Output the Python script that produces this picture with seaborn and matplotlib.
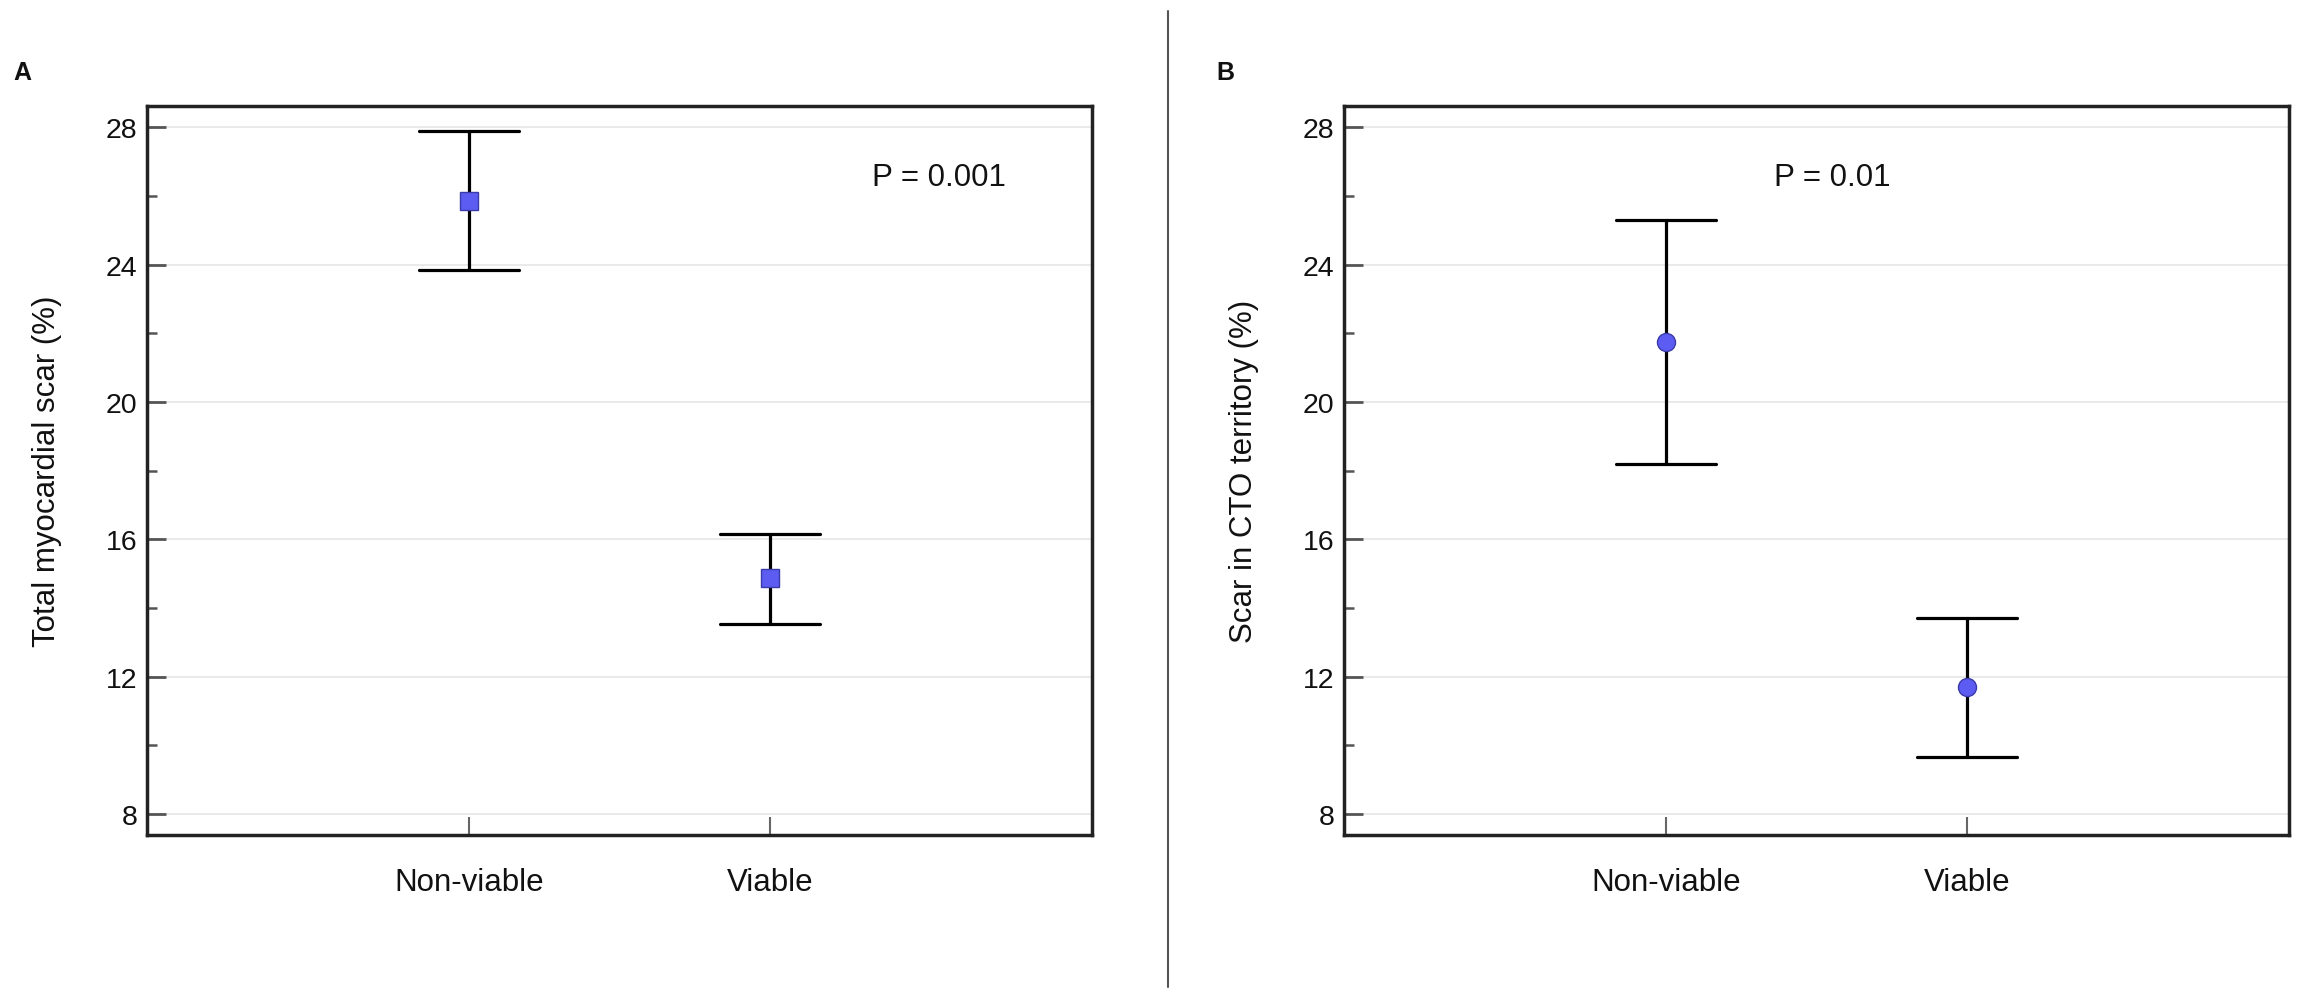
import numpy as np
import pandas as pd
import matplotlib
matplotlib.use("Agg")
import matplotlib.pyplot as plt
from matplotlib.lines import Line2D
from matplotlib.ticker import MultipleLocator
import seaborn as sns

# ---- data ----
groups = ["Non-viable", "Viable"]
# Panel A: total myocardial scar (%)
a_lower = [23.85, 13.54]
a_mean = [25.86, 14.86]
a_upper = [27.88, 16.17]
# Panel B: scar in CTO territory (%)
b_lower = [18.19, 9.65]
b_mean = [21.75, 11.69]
b_upper = [25.29, 13.72]

panel_letters = ["A", "B"]
ylabels = ["Total myocardial scar (%)", "Scar in CTO territory (%)"]
p_texts = ["P = 0.001", "P = 0.01"]
p_x = [1.34, 0.36]
p_y = [26.56, 26.56]
yticks = [8, 12, 16, 20, 24, 28]
markers = ["s", "o"]


def long_frame(lower, mean, upper):
    rows = []
    for g, lo, m, hi in zip(groups, lower, mean, upper):
        for v in (lo, m, hi):
            rows.append({"group": g, "value": v})
    return pd.DataFrame(rows)


sns.set_style("white")
plt.rcParams["font.family"] = ["Liberation Sans", "DejaVu Sans"]

W, H = 2306, 1004
fig = plt.figure(figsize=(W / 100, H / 100), dpi=100)

ax_left_px = [147, 1344]
ax_w_px = 945
ax_top_px, ax_bot_px = 107, 836

frames = [long_frame(a_lower, a_mean, a_upper), long_frame(b_lower, b_mean, b_upper)]

for i in range(2):
    ax = fig.add_axes([ax_left_px[i] / W, (H - ax_bot_px) / H,
                       ax_w_px / W, (ax_bot_px - ax_top_px) / H])
    sns.pointplot(
        data=frames[i], x="group", y="value", order=groups,
        estimator="median", errorbar=("pi", 100),
        color="black", markers=markers[i], linestyles="none",
        capsize=0.333,
        err_kws={"linewidth": 2.3, "zorder": 2, "color": "black"},
        markersize=13, markerfacecolor="#5c5cf2", markeredgecolor="#3a3aa8",
        markeredgewidth=1.0, zorder=3,
        ax=ax,
    )
    ax.set_xlim(-1.07, 2.07)
    ax.set_ylim(7.39, 28.62)
    ax.set_yticks(yticks)
    ax.yaxis.set_minor_locator(MultipleLocator(2))
    ax.grid(False)
    ax.yaxis.grid(True, which="major", color="#e4e4e4", linewidth=1.1, zorder=0)
    ax.set_axisbelow(True)

    for s in ax.spines.values():
        s.set_visible(True)
        s.set_color("#222222")
        s.set_linewidth(2.5)

    ax.tick_params(axis="y", which="major", direction="in", length=14, width=2,
                   color="#555555", labelsize=20.5, labelcolor="#111111", pad=7,
                   left=True, right=False)
    ax.tick_params(axis="y", which="minor", direction="in", length=7, width=1.8,
                   color="#555555", left=True, right=False)
    ax.tick_params(axis="x", which="major", direction="in", length=13, width=1.5,
                   color="#666666", labelsize=22.5, labelcolor="#111111", pad=23,
                   bottom=True, top=False)

    ax.set_xlabel("")
    ax.set_ylabel(ylabels[i], fontsize=22.5, color="#111111")
    ax.yaxis.set_label_coords(-0.090, 0.5)

    ax.text(p_x[i], p_y[i], p_texts[i], fontsize=22.5, color="#111111",
            ha="left", va="center")

    fig.text((13 if i == 0 else 1216) / W, 1 - 73 / H, panel_letters[i],
             fontsize=18, fontweight="bold", ha="left", va="center",
             color="#111111")

# vertical divider between panels
fig.add_artist(Line2D([1168 / W, 1168 / W], [1 - 12 / H, 1 - 988 / H],
                      transform=fig.transFigure, color="#555555", linewidth=1.5))

fig.savefig("out.png", dpi=100, facecolor="white")
